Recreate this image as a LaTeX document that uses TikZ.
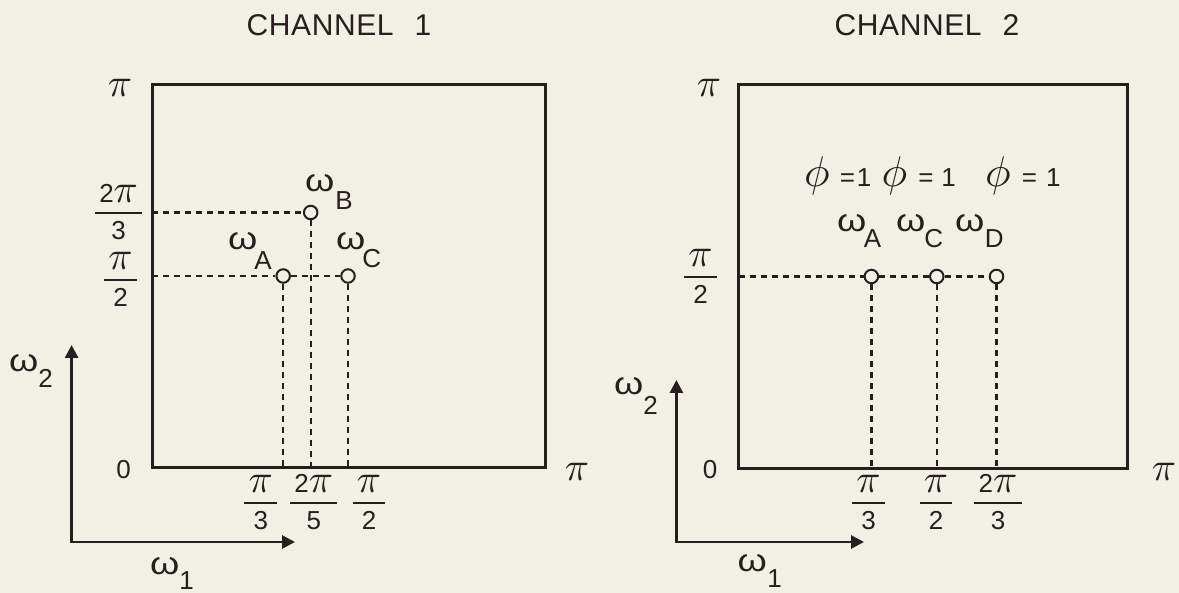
\documentclass[tikz,border=0pt]{standalone}
\usepackage{graphicx}
\usepackage{fontspec}
\setmainfont{Liberation Sans}
\usetikzlibrary{arrows.meta}
\definecolor{bg}{RGB}{240,240,228}
\definecolor{ink}{RGB}{40,30,32}
\newcommand{\PI}{\hbox{\normalsize\scalebox{4}{$\pi$}}}
\newcommand{\FR}[2]{$\displaystyle{\hbox{\,#1\,}\above 2.4pt\hbox{\,#2\,}}$}
\newcommand{\OM}{\scalebox{1.25}[1.05]{\fontsize{30}{30}\selectfont ω}}
\newcommand{\WS}[3]{\OM\kern#1\raisebox{-#2}{#3}}
\newcommand{\PHIONE}[2]{\hbox{\normalsize\scalebox{4.3}{$\phi$}}\kern#1=\kern#2 1}
\begin{document}
\begin{tikzpicture}[x=1pt,y=-1pt,
  frame/.style={draw=ink, line width=3pt, inner sep=0pt, outer sep=0pt},
  dot/.style={circle, draw=ink, line width=2pt, fill=bg, minimum size=13.5pt, inner sep=0pt},
  guide/.style={draw=ink, line width=2.3pt, dash pattern=on 6pt off 5pt},
  axisline/.style={draw=ink, line width=2.8pt, {Triangle[length=13pt,width=13pt]}-{Triangle[length=13pt,width=13pt]}},
  lab/.style={text=ink, inner sep=0pt, font=\fontsize{26}{30}\selectfont},
  title/.style={text=ink, inner sep=0pt, font=\fontsize{30}{34}\selectfont\addfontfeatures{LetterSpace=2}},
]
\fill[bg] (0,0) rectangle (1179,593);
\useasboundingbox (0,0) rectangle (1179,593);

% ---------------- Channel 1 ----------------
\node[title] (t1) at (339,25) {CHANNEL\hspace{0.7em}1};
\node[frame, minimum width=393pt, minimum height=383pt] (box1) at (348.5,276.5) {};

\node[dot] (cA1) at (283.2,276) {};
\node[dot] (cB1) at (310.7,212.5) {};
\node[dot] (cC1) at (348,276) {};

\draw[guide] (box1.west |- cB1) -- (cB1);
\draw[guide] (box1.west |- cA1) -- (cA1) -- (cC1);
\draw[guide] (cA1) -- (cA1 |- box1.south);
\draw[guide] (cB1) -- (cB1 |- box1.south);
\draw[guide] (cC1) -- (cC1 |- box1.south);

\node[lab, anchor=base west] (wA1) at (228,250) {\WS{-3pt}{20pt}{A}};
\node[lab, anchor=base west] (wB1) at (305,192) {\WS{1pt}{18pt}{B}};
\node[lab, anchor=base west] (wC1) at (336,250) {\WS{-3pt}{18pt}{C}};

\node[lab] (pit1) at (120,88) {\PI};
\node[lab, anchor=base] (f1a) at (118.6,219.5) {\FR{2\PI}{3}};
\node[lab, anchor=base] (f1b) at (120.6,286) {\FR{\PI}{2}};
\node[lab] (z1) at (123.5,470) {0};
\node[lab] (pir1) at (577,471.5) {\PI};
\node[lab, anchor=base] (f1c) at (260.8,509.5) {\FR{\PI}{3}};
\node[lab, anchor=base] (f1d) at (313.8,509.5) {\FR{2\PI}{5}};
\node[lab, anchor=base] (f1e) at (369,509.5) {\FR{\PI}{2}};

\coordinate (o1) at (71.6,542);
\coordinate (y1) at (71.6,345);
\coordinate (x1) at (295,542);
\draw[axisline] (y1) -- (o1) -- (x1);
\node[lab, anchor=base west] (w21) at (9,372) {\WS{0pt}{16pt}{2}};
\node[lab, anchor=base west] (w11) at (150,574) {\WS{0pt}{15pt}{1}};

% ---------------- Channel 2 ----------------
\node[title] (t2) at (927,25) {CHANNEL\hspace{0.7em}2};
\node[frame, minimum width=388.5pt, minimum height=384pt] (box2) at (932.75,277) {};

\node[dot] (cA2) at (871.4,276.5) {};
\node[dot] (cC2) at (936.8,276.5) {};
\node[dot] (cD2) at (996.5,276.5) {};

\draw[guide] (box2.west |- cA2) -- (cA2) -- (cC2) -- (cD2);
\draw[guide] (cA2) -- (cA2 |- box2.south);
\draw[guide] (cC2) -- (cC2 |- box2.south);
\draw[guide] (cD2) -- (cD2 |- box2.south);

\node[lab, anchor=base west] (wA2) at (837,232) {\WS{-2.5pt}{16pt}{A}};
\node[lab, anchor=base west] (wC2) at (896,232) {\WS{-1pt}{16pt}{C}};
\node[lab, anchor=base west] (wD2) at (955,232) {\WS{0.5pt}{16pt}{D}};

\node[lab, anchor=base west] (p1) at (804,187) {\PHIONE{10pt}{2pt}};
\node[lab, anchor=base west] (p2) at (881.5,187) {\PHIONE{11pt}{8pt}};
\node[lab, anchor=base west] (p3) at (985,187) {\PHIONE{11pt}{9pt}};

\node[lab] (pit2) at (709,88) {\PI};
\node[lab, anchor=base] (f2a) at (700.5,283.5) {\FR{\PI}{2}};
\node[lab] (z2) at (710,470) {0};
\node[lab] (pir2) at (1164,471.5) {\PI};
\node[lab, anchor=base] (f2c) at (868.6,509.5) {\FR{\PI}{3}};
\node[lab, anchor=base] (f2d) at (936,509.5) {\FR{\PI}{2}};
\node[lab, anchor=base] (f2e) at (998,509.5) {\FR{2\PI}{3}};

\coordinate (o2) at (676.4,542);
\coordinate (y2) at (676.4,380);
\coordinate (x2) at (864,542);
\draw[axisline] (y2) -- (o2) -- (x2);
\node[lab, anchor=base west] (w22) at (614,395) {\WS{0pt}{20pt}{2}};
\node[lab, anchor=base west] (w12) at (737.5,572) {\WS{0.5pt}{16pt}{1}};
\end{tikzpicture}
\end{document}
